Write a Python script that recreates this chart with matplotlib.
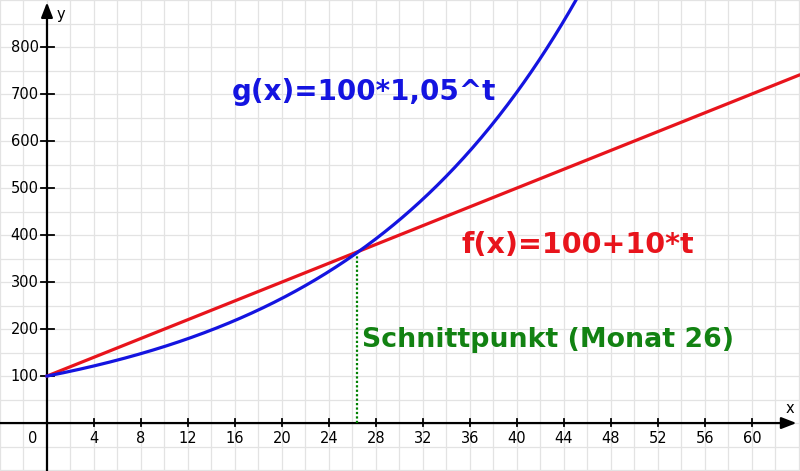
import numpy as np
import matplotlib.pyplot as plt

# Funktionen aus der Grafik
start = 100          # Startwert
zuwachs = 10         # linearer Zuwachs pro Monat
faktor = 1.05        # Wachstumsfaktor
t_schnitt = 26.4     # Schnittpunkt

x_ticks = [4, 8, 12, 16, 20, 24, 28, 32, 36, 40, 44, 48, 52, 56, 60]
y_ticks = [100, 200, 300, 400, 500, 600, 700, 800]

xmin, xmax = -4.0, 64.1
ymin, ymax = -102, 900

t = np.linspace(0, 64, 600)
f = start + zuwachs * t
g = start * faktor ** t

fig = plt.figure(figsize=(8, 4.71), dpi=100)
ax = fig.add_axes([0, 0, 1, 1])
ax.set_xlim(xmin, xmax)
ax.set_ylim(ymin, ymax)

# Gitter (alle 2 bzw. 50 Einheiten)
for gx in np.arange(-4, 66, 2):
    ax.axvline(gx, color='#e3e3e3', lw=0.9, zorder=0)
for gy in np.arange(-100, 901, 50):
    ax.axhline(gy, color='#e3e3e3', lw=0.9, zorder=0)

# Achsen mit Pfeilen
for s in ax.spines.values():
    s.set_visible(False)
ax.annotate('', xy=(xmax - 0.3, 0), xytext=(xmin, 0),
            arrowprops=dict(arrowstyle='-|>,head_length=0.9,head_width=0.35',
                            color='black', lw=1.6, shrinkA=0, shrinkB=0), zorder=3)
ax.annotate('', xy=(0, ymax - 5), xytext=(0, ymin),
            arrowprops=dict(arrowstyle='-|>,head_length=0.9,head_width=0.35',
                            color='black', lw=1.6, shrinkA=0, shrinkB=0), zorder=3)
ax.set_xticks([])
ax.set_yticks([])

# Teilstriche und Beschriftung
for xt in x_ticks:
    ax.plot([xt, xt], [-6, 8], color='black', lw=1.3, zorder=3)
    ax.text(xt, -16, str(xt), ha='center', va='top', fontsize=10.5)
for yt in y_ticks:
    ax.plot([-0.5, 0.6], [yt, yt], color='black', lw=1.3, zorder=3)
    ax.text(-0.7, yt, str(yt), ha='right', va='center', fontsize=10.5)
ax.text(-0.8, -16, '0', ha='right', va='top', fontsize=10.5)
ax.text(63.2, 16, 'x', ha='center', va='bottom', fontsize=10.5)
ax.text(0.8, 870, 'y', ha='left', va='center', fontsize=10.5)

# Graphen
ax.plot(t, f, color='#e8141c', lw=2.3, zorder=4)
ax.plot(t, g, color='#1414e0', lw=2.3, zorder=5)
ax.plot([t_schnitt, t_schnitt], [0, start + zuwachs * t_schnitt],
        color='#008000', lw=1.6, ls=(0, (1, 1)), zorder=3)

ax.text(15.7, 704, 'g(x)=100*1,05^t', color='#1414e0', fontsize=20,
        fontweight='bold', ha='left', va='center')
ax.text(35.3, 379, 'f(x)=100+10*t', color='#e8141c', fontsize=20.5,
        fontweight='bold', ha='left', va='center')
ax.text(26.8, 177, 'Schnittpunkt (Monat 26)', color='#128212', fontsize=19.3,
        fontweight='bold', ha='left', va='center')

fig.savefig('out.png', dpi=100)
